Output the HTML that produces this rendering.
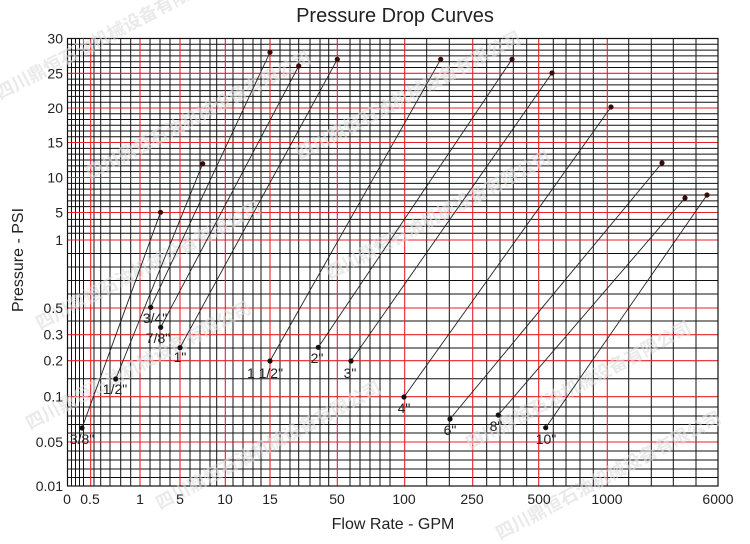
<!DOCTYPE html>
<html><head><meta charset="utf-8"><style>
html,body{margin:0;padding:0;background:#fff;}
svg{display:block;}
text{font-family:"Liberation Sans","DejaVu Sans",sans-serif;fill:#222;}
.wm{font-family:"Liberation Sans","Noto Sans CJK SC",sans-serif;fill:#dcdcdc;font-size:18px;font-weight:bold;}
</style></head><body>
<svg width="750" height="544" viewBox="0 0 750 544" xmlns="http://www.w3.org/2000/svg">
<g id="grid"></g>
<g id="wm" opacity="0.6">
<text class="wm" transform="translate(0,100) rotate(-28)">四川鼎恒石油机械设备有限公司</text>
<text class="wm" transform="translate(90,180) rotate(-28)">四川鼎恒石油机械设备有限公司</text>
<text class="wm" transform="translate(40,330) rotate(-28)">四川鼎恒石油机械设备有限公司</text>
<text class="wm" transform="translate(30,430) rotate(-28)">四川鼎恒石油机械设备有限公司</text>
<text class="wm" transform="translate(160,510) rotate(-28)">四川鼎恒石油机械设备有限公司</text>
<text class="wm" transform="translate(300,160) rotate(-28)">四川鼎恒石油机械设备有限公司</text>
<text class="wm" transform="translate(330,280) rotate(-28)">四川鼎恒石油机械设备有限公司</text>
<text class="wm" transform="translate(470,450) rotate(-28)">四川鼎恒石油机械设备有限公司</text>
<text class="wm" transform="translate(500,540) rotate(-28)">四川鼎恒石油机械设备有限公司</text>
</g>
<g id="curves" stroke="#222" stroke-width="0.9"></g>
<g id="labels"></g>
<text x="395" y="22" font-size="20" text-anchor="middle">Pressure Drop Curves</text>
<text x="393" y="529" font-size="16" text-anchor="middle">Flow Rate - GPM</text>
<text transform="translate(23,260) rotate(-90)" font-size="16" text-anchor="middle">Pressure - PSI</text>
</svg>
<script>
var NS="http://www.w3.org/2000/svg";
function el(p,n,a,t){var e=document.createElementNS(NS,n);for(var k in a)e.setAttribute(k,a[k]);if(t!==undefined)e.textContent=t;p.appendChild(e);return e;}
var g=document.getElementById('grid');
var X0=67.5,X1=718,Y0=38.5,Y1=486;
var vx=[[71.5],[75.5],[79.5],[83.5],[90.7,1],[94],[100.7],[110],[120.7],[130.7],[140,1],[150],[160],[170],[180,1],[190],[200],[210],[216.7],[225.3,1],[233],[243],[253],[261],[270,1],[280],[290],[298.7],[310],[320],[328.7],[337.3,1],[350],[360],[370],[380],[390],[404.7,1],[426.7],[449.3],[472.7,1],[486.7],[500],[513.3],[526.7],[538.7,1],[553.3],[566],[580],[593.3],[607.3,1],[628.7],[651.3],[673.3],[696]];
var hy=[];
var reds=[73.3,108,142.5,177.5,212.5,240,308,334.7,360.7,396.7,442];
var s=[38.5,73.3,108,142.5,177.5,212.5];
for(var i=0;i<5;i++){for(var j=1;j<6;j++)hy.push([s[i]+(s[i+1]-s[i])*j/6]);}
[219.4,226.3,233.2,253.5,267,280.5,294,321,348,378.7,407,416,424.5,433,451,460,469,477.5].forEach(function(v){hy.push([v]);});
reds.forEach(function(v){hy.push([v,1]);});
hy.filter(function(h){return !h[1];}).forEach(function(h){el(g,'line',{x1:X0,x2:X1,y1:h[0],y2:h[0],stroke:'#111','stroke-width':1});});
vx.filter(function(h){return !h[1];}).forEach(function(h){el(g,'line',{x1:h[0],x2:h[0],y1:Y0,y2:Y1,stroke:'#111','stroke-width':1});});
hy.filter(function(h){return h[1];}).forEach(function(h){el(g,'line',{x1:X0,x2:X1,y1:h[0],y2:h[0],stroke:'#e8202a','stroke-width':1.1});});
vx.filter(function(h){return h[1];}).forEach(function(h){el(g,'line',{x1:h[0],x2:h[0],y1:Y0,y2:Y1,stroke:'#e8202a','stroke-width':1.1});});
el(g,'rect',{x:X0,y:Y0,width:X1-X0,height:Y1-Y0,fill:'none',stroke:'#111','stroke-width':1.2});
var L=document.getElementById('labels');
[['30',38.5],['25',73.3],['20',108],['15',142.5],['10',177.5],['5',212.5],['1',240],['0.5',308],['0.3',334.7],['0.2',360.7],['0.1',396.7],['0.05',442],['0.01',486]].forEach(function(a){el(L,'text',{x:63,y:a[1]+5,'font-size':14,'text-anchor':'end'},a[0]);});
[['0',67],['0.5',90],['1',140],['5',180],['10',225],['15',270],['50',337],['100',404],['250',472],['500',539],['1000',607],['6000',718]].forEach(function(a){el(L,'text',{x:a[1],y:504,'font-size':14,'text-anchor':'middle'},a[0]);});
var C=document.getElementById('curves');
var cv=[
['3/8"',82,428,160.5,212.3,82,444],
['1/2"',115.7,379,202.7,163.7,115,394],
['3/4"',150.7,307.3,270,52.3,155,323],
['7/8"',160.7,327.3,298.7,66,158,343],
['1"',180,347.7,337.3,59.3,180,362],
['1 1/2"',270,361,440.7,59.3,265,378],
['2"',318.3,347.3,512,59.3,317,363],
['3"',351,361,552,73,350,378],
['4"',404,397,611,107,404,413],
['6"',450,419,662,163,450,435],
['8"',498.3,415,685,198,496,431],
['10"',545.7,427.7,707,195,546,444]];
cv.forEach(function(c){
el(C,'line',{x1:c[1],y1:c[2],x2:c[3],y2:c[4]});
el(C,'circle',{cx:c[1],cy:c[2],r:2.6,fill:'#111',stroke:'none'});
el(C,'circle',{cx:c[3],cy:c[4],r:2.6,fill:'#3a0a0a',stroke:'none'});
el(L,'text',{x:c[5],y:c[6],'font-size':14,'text-anchor':'middle'},c[0]);
});
</script>
</body></html>
